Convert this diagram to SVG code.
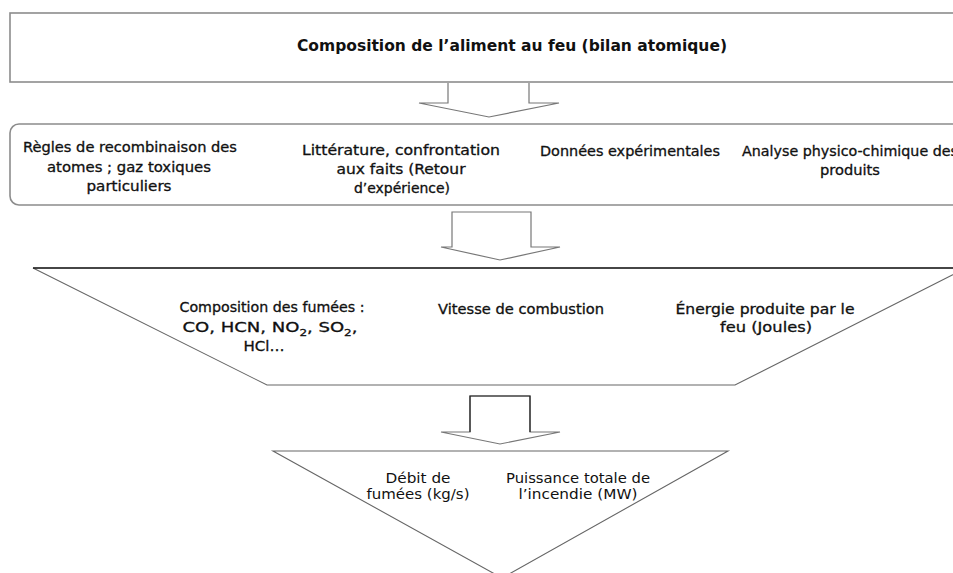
<svg xmlns="http://www.w3.org/2000/svg" width="953" height="573" viewBox="0 0 953 573">
<style>
.box{fill:#fff;stroke:#8c8c8c;stroke-width:1.6}
.t{font-family:"DejaVu Sans","Liberation Sans",sans-serif;font-size:13.5px;fill:#111;text-anchor:middle}
.b{stroke:#111;stroke-width:0.3}
.title{font-family:"DejaVu Sans","Liberation Sans",sans-serif;font-size:16px;font-weight:bold;fill:#111;text-anchor:middle}
.arr{fill:#fff;stroke:#777;stroke-width:1.2}
.sub{font-size:9px}
</style>
<rect width="953" height="573" fill="#fff"/>
<g id="composition">
<rect class="box" x="10" y="13" width="960" height="69"/>
<text class="title" x="512" y="51" textLength="430" lengthAdjust="spacingAndGlyphs">Composition de l’aliment au feu (bilan atomique)</text>
</g>
<g id="sources">
<rect class="box" x="10" y="124" width="960" height="81" rx="9" ry="9"/>
<text class="t b" x="130" y="152" textLength="214" lengthAdjust="spacingAndGlyphs">Règles de recombinaison des</text>
<text class="t b" x="129" y="172" textLength="164" lengthAdjust="spacingAndGlyphs">atomes ; gaz toxiques</text>
<text class="t b" x="129" y="191" textLength="85" lengthAdjust="spacingAndGlyphs">particuliers</text>
<text class="t b" x="401" y="155" textLength="198" lengthAdjust="spacingAndGlyphs">Littérature, confrontation</text>
<text class="t b" x="401" y="174" textLength="129" lengthAdjust="spacingAndGlyphs">aux faits (Retour</text>
<text class="t b" x="402" y="193" textLength="96" lengthAdjust="spacingAndGlyphs">d’expérience)</text>
<text class="t b" x="630" y="156" textLength="180" lengthAdjust="spacingAndGlyphs">Données expérimentales</text>
<text class="t b" x="850" y="156" textLength="216" lengthAdjust="spacingAndGlyphs">Analyse physico-chimique des</text>
<text class="t b" x="850" y="175" textLength="60" lengthAdjust="spacingAndGlyphs">produits</text>
</g>
<g id="resultats">
<polygon points="33,268 966,268 735,385 267,385" fill="#fff" stroke="#666" stroke-width="1.1"/>
<line x1="33" y1="268" x2="953" y2="268" stroke="#222" stroke-width="1.4"/>
<text class="t b" x="272" y="312" textLength="185" lengthAdjust="spacingAndGlyphs">Composition des fumées :</text>
<text class="t b" x="270" y="332" textLength="175" lengthAdjust="spacingAndGlyphs">CO, HCN, NO<tspan class="sub" dy="4">2</tspan><tspan dy="-4">, SO</tspan><tspan class="sub" dy="4">2</tspan><tspan dy="-4">,</tspan></text>
<text class="t b" x="264" y="351" textLength="41" lengthAdjust="spacingAndGlyphs">HCl…</text>
<text class="t b" x="521" y="314" textLength="166" lengthAdjust="spacingAndGlyphs">Vitesse de combustion</text>
<text class="t b" x="765" y="314" textLength="179" lengthAdjust="spacingAndGlyphs">Énergie produite par le</text>
<text class="t b" x="766" y="332" textLength="92" lengthAdjust="spacingAndGlyphs">feu (Joules)</text>
</g>
<g id="sortie">
<polygon points="273,451 728,451 502,578" fill="#fff" stroke="#666" stroke-width="1.1"/>
<text class="t" x="418" y="483" textLength="65" lengthAdjust="spacingAndGlyphs">Débit de</text>
<text class="t" x="418" y="499" textLength="103" lengthAdjust="spacingAndGlyphs">fumées (kg/s)</text>
<text class="t" x="578" y="483" textLength="144" lengthAdjust="spacingAndGlyphs">Puissance totale de</text>
<text class="t" x="578" y="499" textLength="119" lengthAdjust="spacingAndGlyphs">l’incendie (MW)</text>
</g>
<g id="connectors">
<polyline class="arr" points="448,83 448,103 419,103 489,117 559,103 529,103 529,83"/>
<polygon class="arr" points="452,212 531,212 531,247 560,247 500,260 441,247 452,247"/>
<polygon class="arr" points="470,396 530,396 530,432 560,432 500,444 441,432 470,432"/>
<polyline points="470,432 470,396 530,396 530,432" fill="none" stroke="#222" stroke-width="1.2"/>
</g>
</svg>
